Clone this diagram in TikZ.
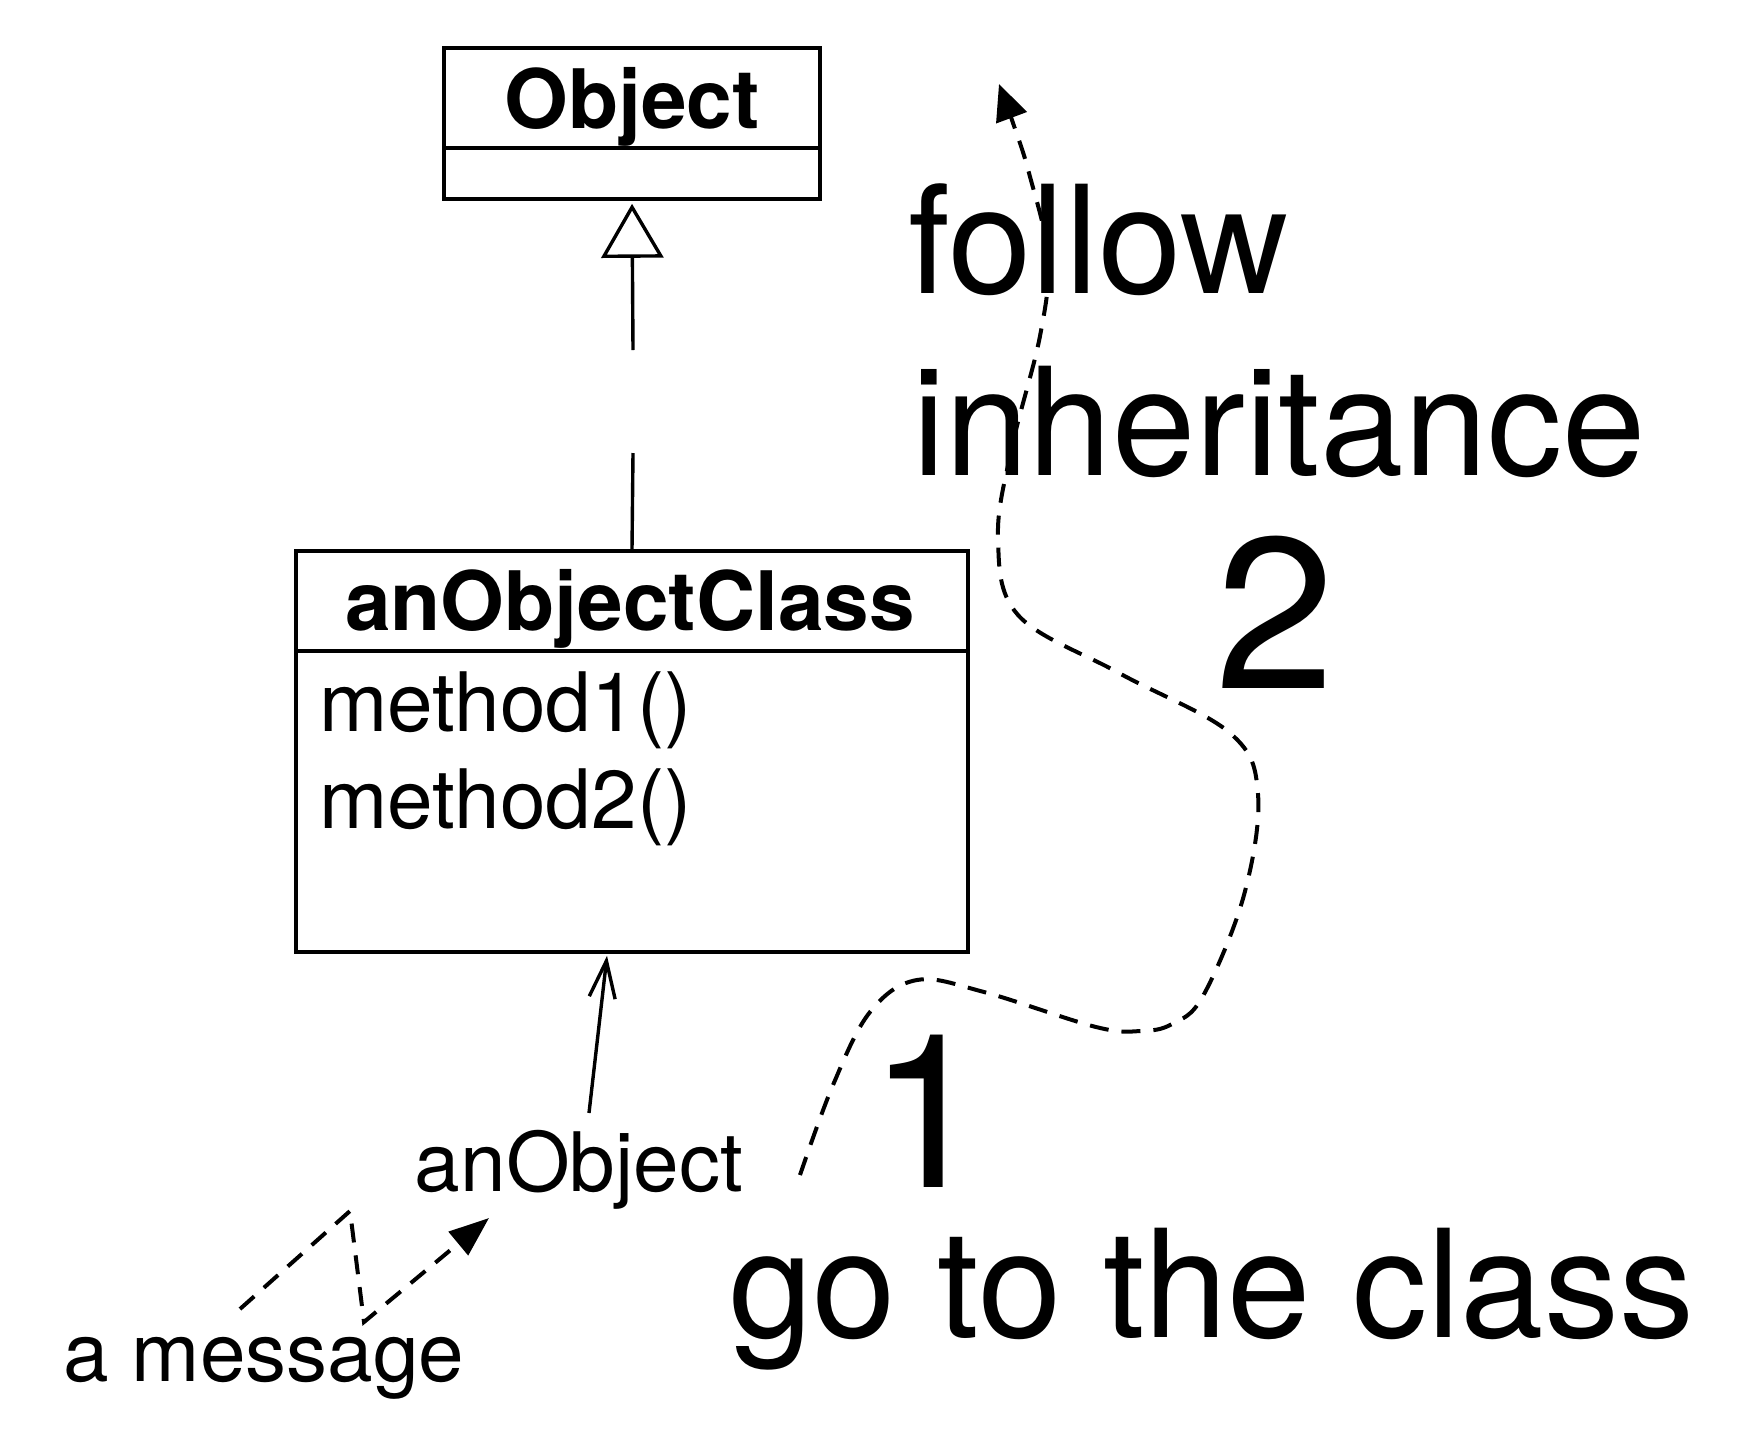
\documentclass[tikz,border=0pt]{standalone}
\usepackage{fontspec}
\setmainfont{TeX Gyre Heros}
\usetikzlibrary{arrows.meta,calc}
\begin{document}
\begin{tikzpicture}[x=1pt,y=-1pt,
  box/.style={draw, line width=3.6pt, inner sep=0pt},
  lbl/.style={inner sep=0pt, anchor=base},
  lblw/.style={inner sep=0pt, anchor=base west},
  small/.style={font=\fontsize{82}{98}\selectfont},
  smallb/.style={font=\fontsize{82}{98}\selectfont\bfseries},
  big/.style={font=\fontsize{150}{180}\selectfont},
  huge/.style={font=\fontsize{215}{258}\selectfont},
  solidline/.style={line width=3.4pt},
  dsh/.style={line width=4pt, dash pattern=on 19pt off 13pt},
]
\useasboundingbox (0,0) rectangle (1754,1441);

% Object class
\node[box, minimum width=376pt, minimum height=100pt] (objhead) at (632,98) {};
\node[box, minimum width=376pt, minimum height=51pt] (objbody) at (632,173.5) {};
\node[lbl, smallb] (objtitle) at (632,128) {Object};

% anObjectClass
\node[box, minimum width=672pt, minimum height=100pt] (clshead) at (632,601) {};
\node[box, minimum width=672pt, minimum height=301pt] (clsbody) at (632,801.5) {};
\node[lbl, smallb] (clstitle) at (630,630) {anObjectClass};
\node[lblw, small] (m1) at (319,731) {method1()};
\node[lblw, small] (m2) at (319,828) {method2()};

% inheritance
\coordinate (gaptop) at (633,350);
\coordinate (gapbot) at (633,453);
\draw[solidline] (clshead.north) -- (gapbot);
\draw[solidline, -{Triangle[open, length=54pt, width=62pt, line width=3.4pt]}, shorten >=3pt] (gaptop) -- (objbody.south);

% instance
\node[lbl, small] (anobj) at (579,1191) {anObject};
\coordinate (objtop) at (589,1113);
\draw[solidline, -{Straight Barb[length=37pt, width=26pt, line width=3.4pt]}] (objtop) -- ($(clsbody.south)+(-25,2)$);

% message
\node[lbl, small] (msg) at (264,1381) {a message};
\coordinate (p1) at (240,1309);
\coordinate (p2) at (350,1211);
\coordinate (p3) at (364,1322);
\coordinate (p4) at (489,1218);
\draw[dsh, -{Triangle[length=40pt, width=30pt]}] (p1) -- (p2) -- (p3) -- (p4);

% big labels
\node[lblw, big] (follow) at (908,293) {follow};
\node[lblw, big] (inh) at (912,475) {inheritance};
\node[lbl, huge] (two) at (1275,688) {2};
\node[lbl, huge] (one) at (928,1187) {1};
\node[lblw, big] (goto) at (729,1337) {go to the class};

% lookup path
\draw[dsh, -{Triangle[length=36pt, width=32pt]}] plot[smooth, tension=0.6] coordinates {
 (800,1175) (833,1085) (870,1012) (917,980) (984,992) (1096,1027) (1141,1031)
 (1172,1024) (1203,996) (1244,895) (1258,794) (1230,733) (1119,673) (1018,615)
 (998,537) (1012,447) (1040,336) (1048,257) (1029,173) (1013,123) (999,84)};
\end{tikzpicture}
\end{document}
